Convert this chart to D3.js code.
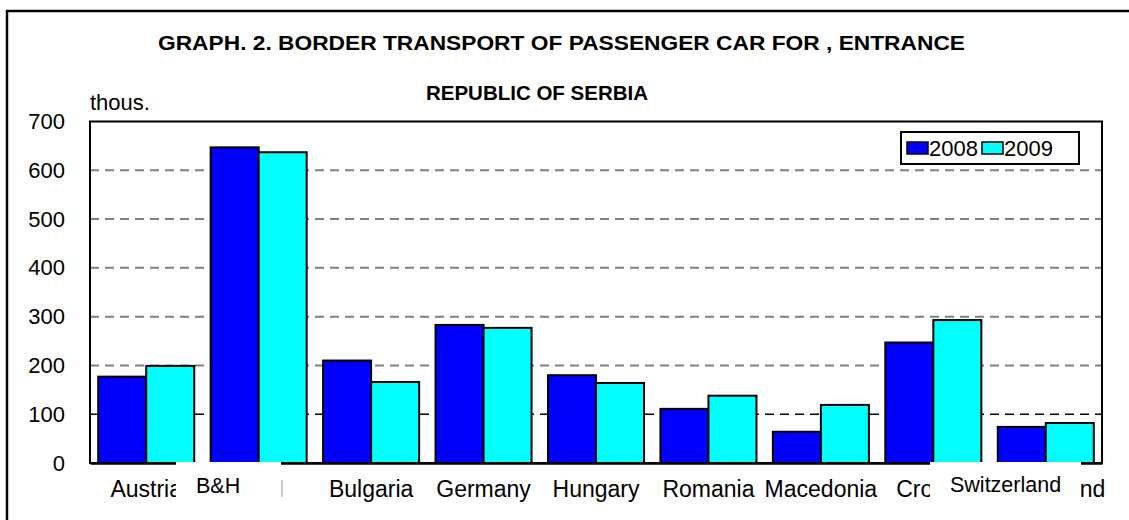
<!DOCTYPE html>
<html>
<head>
<meta charset="utf-8">
<script src="https://cdn.jsdelivr.net/npm/d3@7"></script>
<style>
  body { margin: 0; background: #fff; }
  text { font-family: "Liberation Sans", Arial, sans-serif; }
</style>
</head>
<body>
<div id="chart"></div>
<script>
// data (thousands of cars)
const categories = ["Austria", "B&H", "Bulgaria", "Germany", "Hungary", "Romania", "Macedonia", "Croatia", "Switzerland"];
const series = ["2008", "2009"];
const values2008 = [177, 647, 210, 283, 180, 111, 64, 247, 74];
const values2009 = [199, 637, 166, 277, 164, 138, 119, 293, 82];
const yTicks = [0, 100, 200, 300, 400, 500, 600, 700];
const titleLines = ["GRAPH. 2. BORDER TRANSPORT OF PASSENGER CAR FOR , ENTRANCE", "REPUBLIC OF SERBIA"];
// labels pasted over the axis in the original
const overlayLabels = ["B&H", "Switzerland"];

const colors = {"2008": "#0000ff", "2009": "#00ffff"};
const width = 1129, height = 520;
const plot = {left: 90, top: 121.5, right: 1102, bottom: 463};

const svg = d3.select("#chart").append("svg")
  .attr("width", width)
  .attr("height", height);

// outer frame (runs off right and bottom edges)
svg.append("rect")
  .attr("x", 7).attr("y", 11)
  .attr("width", 1140).attr("height", 530)
  .attr("fill", "none").attr("stroke", "#000").attr("stroke-width", 2.5);

// title
svg.append("text")
  .attr("x", 158).attr("y", 50)
  .attr("textLength", 807).attr("lengthAdjust", "spacingAndGlyphs")
  .attr("font-weight", "bold").attr("font-size", 21)
  .text(titleLines[0]);
svg.append("text")
  .attr("x", 537).attr("y", 100)
  .attr("text-anchor", "middle")
  .attr("font-weight", "bold").attr("font-size", 20.5)
  .text(titleLines[1]);

const x0 = d3.scaleBand()
  .domain(categories)
  .range([plot.left, plot.right])
  .paddingInner(0.146)
  .paddingOuter(0.073);
const x1 = d3.scaleBand()
  .domain(series)
  .range([0, x0.bandwidth()]);
const y = d3.scaleLinear()
  .domain([0, 700])
  .range([plot.bottom, plot.top]);

// gridlines
svg.append("g")
  .selectAll("line")
  .data(yTicks.filter(d => d > 0 && d < 700))
  .join("line")
    .attr("x1", plot.left).attr("x2", plot.right)
    .attr("y1", d => y(d)).attr("y2", d => y(d))
    .attr("stroke", d => d === 100 ? "#000" : "#808080")
    .attr("stroke-width", d => d === 100 ? 1.5 : 2)
    .attr("stroke-dasharray", "9,6");

// plot frame
svg.append("rect")
  .attr("x", plot.left).attr("y", plot.top)
  .attr("width", plot.right - plot.left)
  .attr("height", plot.bottom - plot.top)
  .attr("fill", "none").attr("stroke", "#000").attr("stroke-width", 2);

// y axis
const yAxis = svg.append("g")
  .attr("transform", `translate(${plot.left},0)`)
  .call(d3.axisLeft(y).tickValues(yTicks).tickSize(0).tickPadding(25));
yAxis.select(".domain").remove();
yAxis.selectAll("text")
  .attr("font-size", 22).attr("font-family", "Liberation Sans, Arial, sans-serif")
  .attr("fill", "#000");

svg.append("text")
  .attr("x", 90).attr("y", 110)
  .attr("font-size", 22)
  .text("thous.");

// bars
const rows = categories.map((c, i) => ({cat: c, vals: [values2008[i], values2009[i]]}));
svg.append("g")
  .selectAll("g")
  .data(rows)
  .join("g")
    .attr("transform", d => `translate(${x0(d.cat)},0)`)
  .selectAll("rect")
  .data(d => d.vals.map((v, k) => ({key: series[k], v})))
  .join("rect")
    .attr("x", d => x1(d.key))
    .attr("y", d => y(d.v))
    .attr("width", x1.bandwidth())
    .attr("height", d => y(0) - y(d.v))
    .attr("fill", d => colors[d.key])
    .attr("stroke", "#000")
    .attr("stroke-width", 2);

// x axis
const xAxis = svg.append("g")
  .attr("transform", `translate(0,${plot.bottom})`)
  .call(d3.axisBottom(x0).tickSize(0).tickPadding(17.7));
xAxis.select(".domain")
  .attr("stroke", "#000").attr("stroke-width", 2.5);
xAxis.selectAll("text")
  .attr("font-size", 23).attr("font-family", "Liberation Sans, Arial, sans-serif")
  .attr("fill", "#000");

// white boxes pasted over the axis labels, with new labels
const pasted = [
  {label: overlayLabels[0], x: 176, w: 105, tx: 196, ty: 493},
  {label: overlayLabels[1], x: 930, w: 151, tx: 950, ty: 492}
];
svg.append("g")
  .selectAll("rect")
  .data(pasted)
  .join("rect")
    .attr("x", d => d.x).attr("y", 462)
    .attr("width", d => d.w).attr("height", 45)
    .attr("fill", "#fff");
svg.append("g")
  .selectAll("text")
  .data(pasted)
  .join("text")
    .attr("x", d => d.tx).attr("y", d => d.ty)
    .attr("font-size", 21.5)
    .text(d => d.label);
svg.append("line")
  .attr("x1", 282).attr("x2", 282)
  .attr("y1", 480).attr("y2", 497)
  .attr("stroke", "#999").attr("stroke-width", 1);

// legend
const legend = svg.append("g").attr("transform", "translate(901,132)");
legend.append("rect")
  .attr("width", 178).attr("height", 32)
  .attr("fill", "#fff").attr("stroke", "#000").attr("stroke-width", 2);
const item = legend.selectAll("g.item")
  .data(series)
  .join("g")
    .attr("class", "item")
    .attr("transform", (d, i) => `translate(${6 + i * 75},0)`);
item.append("rect")
  .attr("y", 10).attr("width", 21).attr("height", 12)
  .attr("fill", d => colors[d]).attr("stroke", "#000").attr("stroke-width", 1.5);
item.append("text")
  .attr("x", 22).attr("y", 24)
  .attr("font-size", 22)
  .text(d => d);
</script>
</body>
</html>
